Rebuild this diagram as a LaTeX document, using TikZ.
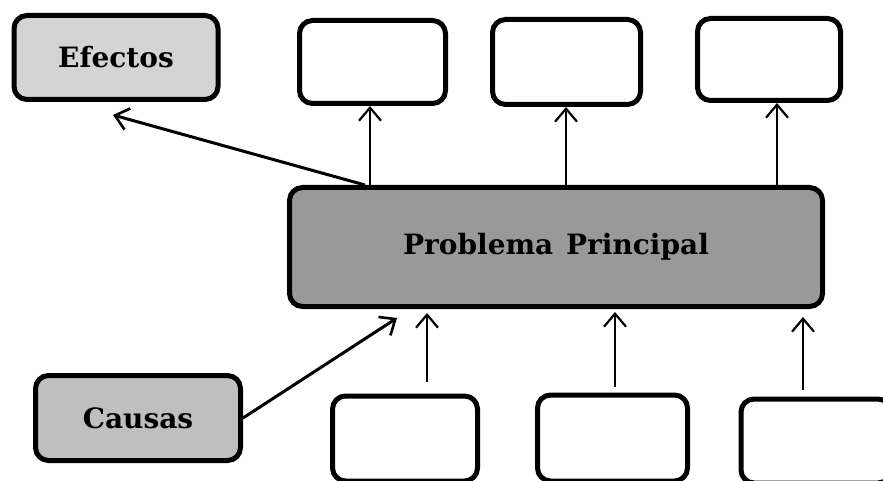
\documentclass[tikz,border=0pt]{standalone}
\usepackage{fontspec}
\newfontfamily\boxfont{DejaVu Serif}
\usetikzlibrary{arrows.meta}
\begin{document}
\begin{tikzpicture}[x=1pt,y=-1pt,
  bx/.style={draw=black,line width=5pt,rounded corners=13pt,inner sep=0pt},
  lbl/.style={font=\boxfont\bfseries\fontsize{28}{30}\selectfont},
  arr/.style={line width=2.2pt,-{Straight Barb[length=13pt,width=22pt,line width=2.2pt]}},
  arrd/.style={line width=3pt,-{Straight Barb[length=13pt,width=22pt,line width=2.6pt]}}
]
\useasboundingbox (0,0) rectangle (883,481);
% boxes
\node[bx,fill=black!17,minimum width=204pt,minimum height=84pt,lbl] (ef) at (116,57.5) {Efectos};
\node[bx,minimum width=146pt,minimum height=83pt] (t1) at (372.5,62) {};
\node[bx,minimum width=148pt,minimum height=85pt] (t2) at (566.5,62) {};
\node[bx,minimum width=143pt,minimum height=82pt] (t3) at (769,59.5) {};
\node[bx,fill=black!40,minimum width=533pt,minimum height=119pt,lbl] (main) at (556,247) {Problema\hspace{3pt} Principal};
\node[bx,fill=black!25,minimum width=205pt,minimum height=85pt,lbl] (ca) at (138,418) {Causas};
\node[bx,minimum width=145pt,minimum height=85pt] (b1) at (405,438.5) {};
\node[bx,minimum width=150pt,minimum height=86pt] (b2) at (612.5,438) {};
\node[bx,minimum width=150pt,minimum height=84pt] (b3) at (816,441) {};
% free ends
\coordinate (efin) at (113,115);
\coordinate (cain) at (397,318);
\coordinate (s1) at (427,382);
\coordinate (s2) at (615,387);
\coordinate (s3) at (803,390);
% arrows to effects
\draw[arrd] (main.north -| 365,0) -- (efin);
\draw[arr] (main.north -| 370,0) -- (t1.south -| 370,0);
\draw[arr] (main.north -| 566,0) -- (t2.south -| 566,0);
\draw[arr] (main.north -| 777,0) -- (t3.south -| 777,0);
% arrows from causes
\draw[arrd] (ca.east) -- (cain);
\draw[arr] (s1) -- (s1 |- 0,313);
\draw[arr] (s2) -- (s2 |- 0,312);
\draw[arr] (s3) -- (s3 |- 0,317);
\end{tikzpicture}
\end{document}
